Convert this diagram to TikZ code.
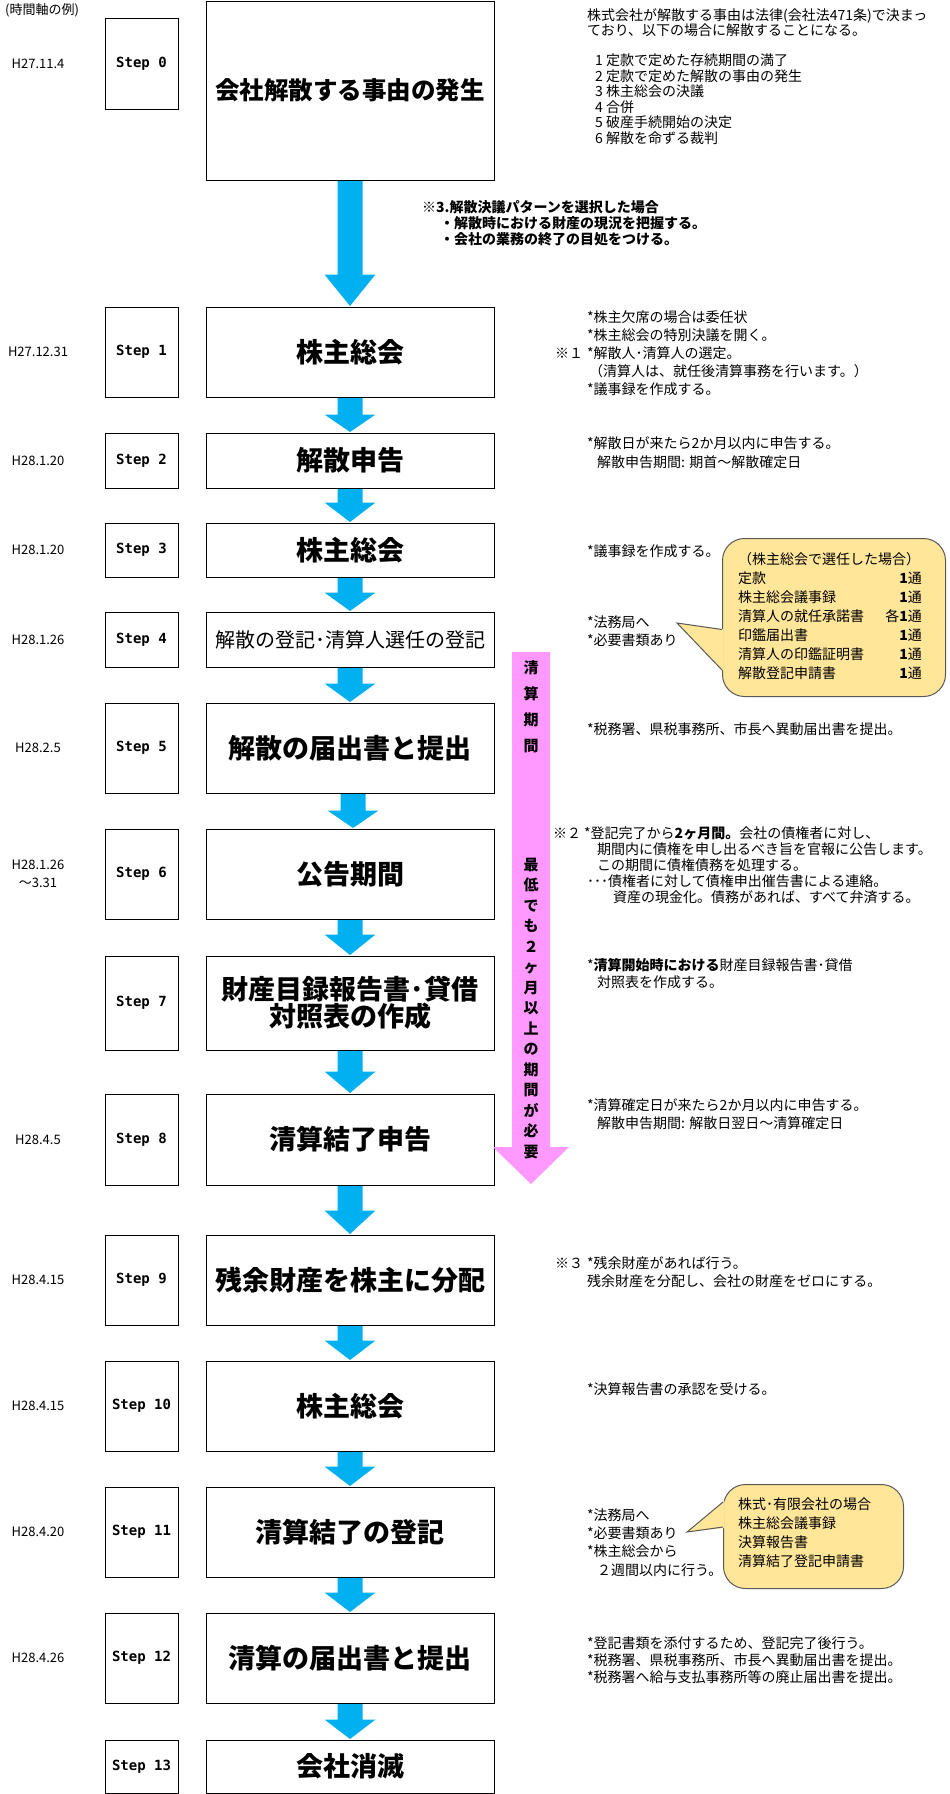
\documentclass[tikz,border=0pt]{standalone}
\usepackage{fontspec}
\setmainfont{Noto Sans CJK JP}
\newfontfamily\stepfont{DejaVu Sans Mono}
\usetikzlibrary{calc}
\definecolor{arrowblue}{HTML}{00B0F0}
\definecolor{pinkfill}{HTML}{FF99FF}
\definecolor{calloutfill}{HTML}{FFE699}
\definecolor{calloutline}{HTML}{595959}
\newcommand\mbf[1]{\fontsize{#1pt}{34pt}\selectfont\bfseries}
\tikzset{
  stepbox/.style={draw=black, line width=1pt, minimum width=73pt, inner sep=0pt,
    font=\stepfont\bfseries\fontsize{14pt}{14pt}\selectfont},
  mainbox/.style={draw=black, line width=1pt, minimum width=288pt, inner sep=0pt, align=center},
  datelabel/.style={inner sep=0pt, align=center, font=\fontsize{13pt}{18pt}\selectfont},
  note/.style={inner sep=0pt, anchor=west, align=left, font=\fontsize{14pt}{#1pt}\selectfont},
  boldnote/.style={inner sep=0pt, anchor=west, align=left, font=\fontsize{14pt}{#1pt}\selectfont\bfseries},
  pinktext/.style={inner sep=0pt, align=center, font=\fontsize{15pt}{#1pt}\selectfont\bfseries},
  callout/.style={draw=calloutline, fill=calloutfill, line width=1pt, rounded corners=22pt, inner sep=0pt},
}
% block arrow from node #1 (south) to node #2 (north), head length #3, x shift #4
\newcommand\barrow[4]{%
  \fill[arrowblue] let \p1=(#1.south), \p2=(#2.north) in
    (\x1+#4pt-12.5pt,\y1-0.5pt) -- (\x1+#4pt+12.5pt,\y1-0.5pt) -- (\x1+#4pt+12.5pt,\y2+#3pt)
    -- (\x1+#4pt+25.5pt,\y2+#3pt) -- (\x1+#4pt,\y2+0.5pt) -- (\x1+#4pt-25.5pt,\y2+#3pt)
    -- (\x1+#4pt-12.5pt,\y2+#3pt) -- cycle;}
\newcommand\steprow[5]{%
  \node[stepbox, minimum height={(#3-#2)*1pt}] (s#1) at (141.5,{(#2+#3)/2}) {#4};
  \node[mainbox, minimum height={(#3-#2)*1pt}] (m#1) at (350,{(#2+#3)/2}) {#5};}
\begin{document}
\begin{tikzpicture}[x=1pt,y=-1pt]
\useasboundingbox (0,0) rectangle (950,1794);
\fill[white] (0,0) rectangle (950,1794);

\node[datelabel, anchor=west] (axis) at (5,10) {(時間軸の例)};

% step rows
\node[stepbox, minimum height=91pt] (s0) at (141.5,63.5) {Step 0};
\node[mainbox, minimum height=179pt] (m0) at (350,90.5) {\mbf{24.5}会社解散する事由の発生};
\steprow{1}{307}{397}{Step 1}{\mbf{27}株主総会}
\steprow{2}{433}{488}{Step 2}{\mbf{27}解散申告}
\steprow{3}{523}{577}{Step 3}{\mbf{27}株主総会}
\steprow{4}{612}{667}{Step 4}{\fontsize{20pt}{24pt}\selectfont 解散の登記･清算人選任の登記}
\steprow{5}{703}{793}{Step 5}{\mbf{27}解散の届出書と提出}
\steprow{6}{829}{919}{Step 6}{\mbf{27}公告期間}
\steprow{7}{956}{1050}{Step 7}{\mbf{27}財産目録報告書･貸借\\\mbf{27}対照表の作成}
\steprow{8}{1094}{1185}{Step 8}{\mbf{27}清算結了申告}
\steprow{9}{1235}{1325}{Step 9}{\mbf{27}残余財産を株主に分配}
\steprow{10}{1361}{1451}{Step 10}{\mbf{27}株主総会}
\steprow{11}{1487}{1577}{Step 11}{\mbf{27}清算結了の登記}
\steprow{12}{1613}{1703}{Step 12}{\mbf{27}清算の届出書と提出}
\steprow{13}{1740}{1793}{Step 13}{\mbf{27}会社消滅}

% dates
\node[datelabel] (d0) at (38,63.5) {H27.11.4};
\node[datelabel] (d1) at (38,352) {H27.12.31};
\node[datelabel] (d2) at (38,460.5) {H28.1.20};
\node[datelabel] (d3) at (38,550) {H28.1.20};
\node[datelabel] (d4) at (38,639.5) {H28.1.26};
\node[datelabel] (d5) at (38,748) {H28.2.5};
\node[datelabel] (d6) at (38,874) {H28.1.26\\～3.31};
\node[datelabel] (d8) at (38,1139.5) {H28.4.5};
\node[datelabel] (d9) at (38,1280) {H28.4.15};
\node[datelabel] (d10) at (38,1406) {H28.4.15};
\node[datelabel] (d11) at (38,1532) {H28.4.20};
\node[datelabel] (d12) at (38,1658) {H28.4.26};

% blue arrows
\barrow{m0}{m1}{32}{0}
\barrow{m1}{m2}{18}{0}
\barrow{m2}{m3}{20}{0}
\barrow{m3}{m4}{19}{0}
\barrow{m4}{m5}{19}{0}
\barrow{m5}{m6}{18}{3}
\barrow{m6}{m7}{21}{0}
\barrow{m7}{m8}{22}{0}
\barrow{m8}{m9}{24}{0}
\barrow{m9}{m10}{20}{0}
\barrow{m10}{m11}{20}{0}
\barrow{m11}{m12}{20}{0}
\barrow{m12}{m13}{20}{0}

% pink period arrow
\fill[pinkfill] (512,652) -- (550,652) -- (550,1147) -- (569,1147) -- (531,1184)
  -- (493,1147) -- (512,1147) -- cycle;
\node[pinktext=26] (p1) at (531,707) {清\\算\\期\\間};
\node[pinktext=20.5] (p2) at (531,1008.5) {最\\低\\で\\も\\２\\ヶ\\月\\以\\上\\の\\期\\間\\が\\必\\要};

% notes
\node[note=15.5] (n0a) at (587,22.5) {株式会社が解散する事由は法律(会社法471条)で決まっ\\ており、以下の場合に解散することになる。};
\node[note=15.5] (n0b) at (595,99) {1 定款で定めた存続期間の満了\\2 定款で定めた解散の事由の発生\\3 株主総会の決議\\4 合併\\5 破産手続開始の決定\\6 解散を命ずる裁判};
\node[boldnote=16] (n3x) at (422,223) {※3.解散決議パターンを選択した場合\\\hspace*{18pt}・解散時における財産の現況を把握する。\\\hspace*{18pt}・会社の業務の終了の目処をつける。};

\node[note=18] (k1) at (555,353) {※１};
\node[note=18] (n1) at (587,353) {*株主欠席の場合は委任状\\*株主総会の特別決議を開く。\\*解散人･清算人の選定。\\\hspace*{2pt}（清算人は、就任後清算事務を行います。）\\*議事録を作成する。};
\node[note=19] (n2) at (587,452.5) {*解散日が来たら2か月以内に申告する。\\\hspace*{10pt}解散申告期間: 期首～解散確定日};
\node[note=18] (n3) at (587,551) {*議事録を作成する。};
\node[note=18] (n4) at (587,631) {*法務局へ\\*必要書類あり};

\node[callout, minimum width=223pt, minimum height=158pt, anchor=north west] (c1) at (722,538) {};
\fill[calloutfill] (723.5,629) -- (677,623) -- (723.5,671) -- cycle;
\draw[calloutline, line width=1pt] (722,629.5) -- (677,623) -- (722,670);
\node[note=19] (c1l) at (738,616) {（株主総会で選任した場合）\\定款\\株主総会議事録\\清算人の就任承諾書\\印鑑届出書\\清算人の印鑑証明書\\解散登記申請書};
\node[note=19, anchor=east, align=right] (c1r) at (922,625.5) {{\bfseries 1}通\\{\bfseries 1}通\\各{\bfseries 1}通\\{\bfseries 1}通\\{\bfseries 1}通\\{\bfseries 1}通};

\node[note=18] (n5) at (587,729) {*税務署、県税事務所、市長へ異動届出書を提出。};
\node[note=16] (k2) at (553,833) {※２};
\node[note=16] (n6) at (584,865) {*登記完了から{\bfseries 2ヶ月間。}会社の債権者に対し、\\\hspace*{13pt}期間内に債権を申し出るべき旨を官報に公告します。\\\hspace*{13pt}この期間に債権債務を処理する。\\\hspace*{3pt}･･･債権者に対して債権申出催告書による連絡。\\\hspace*{29pt}資産の現金化。債務があれば、すべて弁済する。};
\node[note=17.5] (n7) at (587,973.5) {*{\bfseries 清算開始時における}財産目録報告書･貸借\\\hspace*{10pt}対照表を作成する。};
\node[note=18] (n8) at (587,1114) {*清算確定日が来たら2か月以内に申告する。\\\hspace*{10pt}解散申告期間: 解散日翌日～清算確定日};
\node[note=18] (k3) at (555,1263) {※３};
\node[note=18] (n9) at (587,1272) {*残余財産があれば行う。\\残余財産を分配し、会社の財産をゼロにする。};
\node[note=18] (n10) at (587,1389) {*決算報告書の承認を受ける。};
\node[note=18.3] (n11) at (587,1542.5) {*法務局へ\\*必要書類あり\\*株主総会から\\\hspace*{10pt}２週間以内に行う。};

\node[callout, minimum width=180pt, minimum height=104pt, anchor=north west] (c2) at (723,1484) {};
\fill[calloutfill] (724.5,1501) -- (687,1532) -- (724.5,1528) -- cycle;
\draw[calloutline, line width=1pt] (723,1502) -- (687,1532) -- (723,1527);
\node[note=19] (c2t) at (738,1532.5) {株式･有限会社の場合\\株主総会議事録\\決算報告書\\清算結了登記申請書};

\node[note=17] (n12) at (587,1660) {*登記書類を添付するため、登記完了後行う。\\*税務署、県税事務所、市長へ異動届出書を提出。\\*税務署へ給与支払事務所等の廃止届出書を提出。};
\end{tikzpicture}
\end{document}
